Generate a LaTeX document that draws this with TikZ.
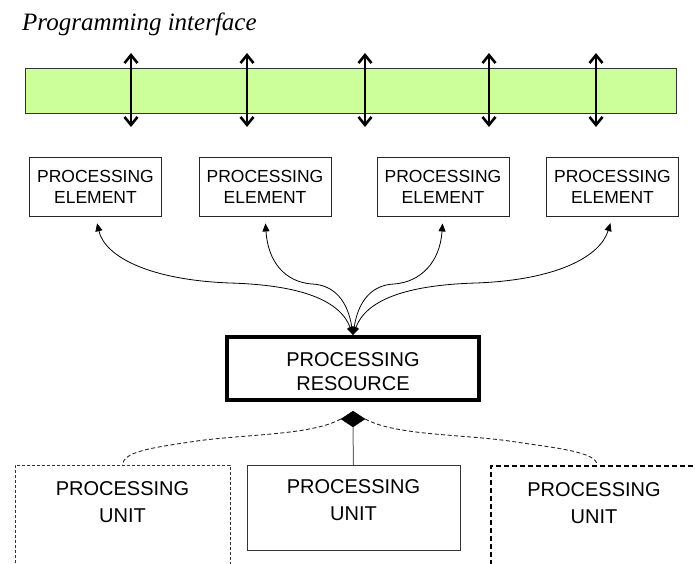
\documentclass[tikz,border=0pt]{standalone}
\usepackage{fontspec}
\setmainfont{Liberation Sans}
\newfontfamily\timesfont{Liberation Serif}
\usetikzlibrary{arrows.meta,shapes.geometric}
\definecolor{bargreen}{HTML}{CCFF99}
\begin{document}
\begin{tikzpicture}[x=1pt,y=-1pt,
  pebox/.style={draw=black!85, line width=0.9pt, minimum width=132pt, minimum height=59pt,
    align=center, inner sep=0pt, font=\fontsize{17.5}{21}\selectfont},
  resbox/.style={draw=black, line width=4pt, minimum width=252pt, minimum height=63pt, inner sep=0pt},
  restext/.style={align=center, inner sep=0pt, font=\fontsize{20}{24}\selectfont},
  pubox/.style={minimum width=215pt, minimum height=140pt, inner sep=0pt},
  putext/.style={align=center, inner sep=0pt, font=\fontsize{20}{27}\selectfont},
  biarrow/.style={line width=2.6pt, {Straight Barb[length=8pt,width=13pt]}-{Straight Barb[length=8pt,width=13pt]}},
  curv/.style={line width=0.8pt, {Triangle[length=8pt,width=7pt]}-{Triangle[length=8pt,width=7pt]}, shorten >=7pt},
  compo/.style={line width=0.9pt, black!85}
]
\useasboundingbox (0,0) rectangle (695,563);

% title
\node[anchor=base west, inner sep=0pt, font=\timesfont\itshape\fontsize{25}{29}\selectfont] (title) at (22,30) {Programming interface};

% green bar
\node[draw=black!80, line width=0.9pt, fill=bargreen, minimum width=651pt, minimum height=45pt, inner sep=0pt] (bar) at (350.5,90.5) {};

% double arrows
\foreach \i/\x in {1/131,2/247,3/365,4/489,5/596}{
  \coordinate (a\i t) at (\x,53);
  \coordinate (a\i b) at (\x,127);
  \draw[biarrow] (a\i t) -- (a\i b);
}

% processing elements
\node[pebox] (pe1) at (95.5,186.5) {PROCESSING\\ELEMENT};
\node[pebox] (pe2) at (265,186.5) {PROCESSING\\ELEMENT};
\node[pebox] (pe3) at (443,186.5) {PROCESSING\\ELEMENT};
\node[pebox] (pe4) at (612.5,186.5) {PROCESSING\\ELEMENT};

% processing resource
\node[resbox] (res) at (353,368.5) {};
\node[restext] (rest) at (353,372) {PROCESSING\\RESOURCE};

% curves
\draw[curv] (res.north) .. controls (340,300) and (300,285) .. (230,283) .. controls (150,280) and (105,257) .. (pe1.south);
\draw[curv] (res.north) .. controls (348,302) and (335,285) .. (312,284) .. controls (285,282) and (268,262) .. (pe2.south);
\draw[curv] (res.north) .. controls (358,302) and (371,285) .. (394,284) .. controls (421,282) and (440,262) .. (pe3.south);
\draw[curv] (res.north) .. controls (366,300) and (406,285) .. (476,283) .. controls (556,280) and (600,257) .. (pe4.south);

% diamond
\node[diamond, fill=black, draw=black, aspect=1.5, minimum width=24pt, minimum height=16pt, inner sep=0pt] (dia) at (353,419) {};

% processing units
\node[pubox, draw=black!80, line width=0.8pt, dash pattern=on 3pt off 2pt, anchor=north] (pul) at (122.5,465) {};
\node[putext] (pult) at (122.5,502.5) {PROCESSING\\UNIT};
\node[pubox, draw=black!80, line width=0.9pt, minimum width=213pt, minimum height=85pt, anchor=north] (pum) at (353.5,465) {};
\node[putext] (pumt) at (353.5,500.5) {PROCESSING\\UNIT};
\node[pubox, draw=black, line width=1.8pt, dash pattern=on 5pt off 3pt, anchor=north west] (pur) at (490,465) {};
\node[putext] (purt) at (594,503.5) {PROCESSING\\UNIT};

% composition connectors
\draw[compo, black!60, line width=1pt] (dia.south) -- (pum.north);
\draw[compo, dash pattern=on 4pt off 2.5pt] (dia.west) .. controls (310,436) and (240,434) .. (190,442) .. controls (150,448) and (123,452) .. (pul.north);
\draw[compo, dash pattern=on 4pt off 2.5pt] (dia.east) .. controls (396,436) and (466,434) .. (516,442) .. controls (556,448) and (597,452) .. (597,465);
\end{tikzpicture}
\end{document}
